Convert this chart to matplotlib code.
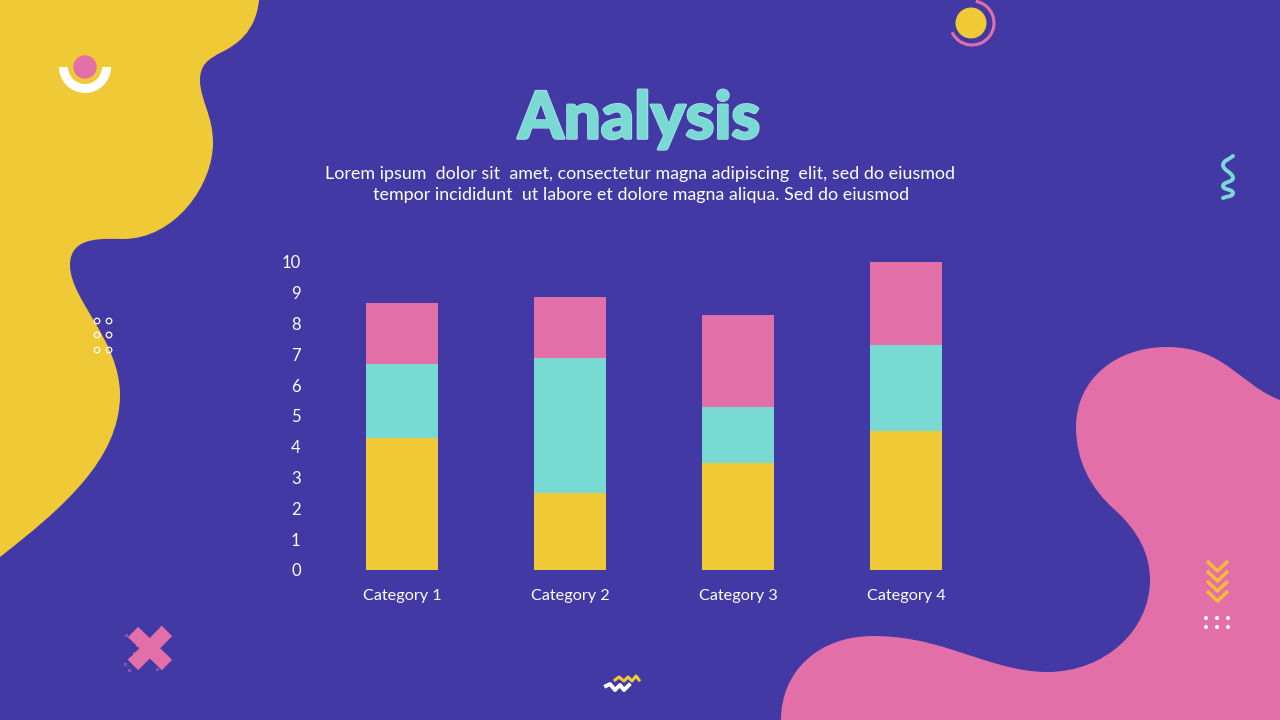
import matplotlib
matplotlib.use("Agg")
import matplotlib.pyplot as plt
import matplotlib.patheffects as pe
from matplotlib.patches import PathPatch, Circle, Wedge, Arc, Rectangle
from matplotlib.path import Path
import numpy as np

# chart values
categories = ["Category 1", "Category 2", "Category 3", "Category 4"]
yellow_vals = [4.28, 2.5, 3.47, 4.5]
teal_vals = [2.4, 4.38, 1.82, 2.8]
pink_vals = [1.98, 1.98, 3.0, 2.7]
y_ticks = list(range(0, 11))

title = "Analysis"
body_lines = ["Lorem ipsum  dolor sit  amet, consectetur magna adipiscing  elit, sed do eiusmod",
              "tempor incididunt  ut labore et dolore magna aliqua. Sed do eiusmod"]

# colours
BG = "#4239a5"
YELLOW = "#f0c937"
PINK = "#e26fa7"
TEAL = "#78dad2"
WHITE = "#ffffff"

plt.rcParams['font.family'] = ['Lato', 'DejaVu Sans']

# background blobs in pixels: start point, then bezier triples (control, control, end)
yellow_start = (259, 0)
yellow_curves = [((256, 32), (236, 45), (222, 52)),
                 ((208, 59), (200, 65), (200, 80)),
                 ((200, 100), (213, 115), (213, 143)),
                 ((213, 185), (175, 239), (123, 239)),
                 ((105, 239), (70, 235), (70, 265)),
                 ((70, 300), (120, 340), (120, 395)),
                 ((120, 460), (60, 510), (0, 557))]
yellow_corners = [(0, 0)]

pink_start = (1280, 400)
pink_curves = [((1240, 385), (1225, 347), (1167, 347)),
               ((1115, 347), (1076, 380), (1076, 427)),
               ((1076, 460), (1090, 488), (1115, 510)),
               ((1137, 530), (1150, 553), (1150, 580)),
               ((1150, 630), (1105, 672), (1047, 672)),
               ((1015, 672), (985, 660), (950, 649)),
               ((925, 641), (900, 636), (873, 636)),
               ((820, 636), (781, 670), (781, 720))]
pink_corners = [(1280, 720)]


def blob_path(start, curves, corners):
    verts = [start]
    codes = [Path.MOVETO]
    for c in curves:
        verts += list(c)
        codes += [Path.CURVE4] * 3
    for c in corners:
        verts.append(c)
        codes.append(Path.LINETO)
    verts.append(start)
    codes.append(Path.CLOSEPOLY)
    return Path(verts, codes)


# smooth open line through the points, for the squiggle
def smooth(points):
    pts = np.array(points, dtype=float)
    tang = np.zeros_like(pts)
    tang[0] = pts[1] - pts[0]
    tang[-1] = pts[-1] - pts[-2]
    tang[1:-1] = pts[2:] - pts[:-2]
    tang = tang / np.linalg.norm(tang, axis=1, keepdims=True)
    verts = [pts[0]]
    codes = [Path.MOVETO]
    for i in range(len(pts) - 1):
        d = np.linalg.norm(pts[i + 1] - pts[i]) / 3
        verts += [pts[i] + tang[i] * d, pts[i + 1] - tang[i + 1] * d, pts[i + 1]]
        codes += [Path.CURVE4] * 3
    return Path(verts, codes)


fig = plt.figure(figsize=(12.8, 7.2), dpi=100, facecolor=BG)

# full size axes in pixel coordinates for the decoration
bg = fig.add_axes([0, 0, 1, 1], zorder=0)
bg.set_xlim(0, 1280)
bg.set_ylim(720, 0)
bg.axis("off")

bg.add_patch(PathPatch(blob_path(yellow_start, yellow_curves, yellow_corners), fc=YELLOW, ec="none"))
bg.add_patch(PathPatch(blob_path(pink_start, pink_curves, pink_corners), fc=PINK, ec="none"))

# smile with pink dot, top left
bg.add_patch(Wedge((85, 67), 26, 0, 180, width=9, fc=WHITE, ec="none"))
bg.add_patch(Circle((85, 67), 11.7, fc=PINK, ec="none"))

# small hollow dots
for x in [97, 109]:
    for y in [321, 335, 350]:
        bg.add_patch(Circle((x, y), 2.8, fc="none", ec=WHITE, lw=0.9))

# yellow dot with arc, top
bg.add_patch(Circle((971, 23), 15.5, fc=YELLOW, ec="none"))
bg.add_patch(Arc((972, 23), 44, 44, theta1=-80, theta2=155, ec=PINK, lw=2.2))

# teal squiggle
bg.add_patch(PathPatch(smooth([(1233, 156), (1223, 165), (1233, 178), (1223, 186), (1233, 193), (1223, 198)]),
                       fc="none", ec=TEAL, lw=2.8, capstyle="round"))

# pink cross
bg.plot([133, 167], [632, 665], color=PINK, lw=10.5, solid_capstyle="butt")
bg.plot([167, 133], [631, 665], color=PINK, lw=10.5, solid_capstyle="butt")
for sx, sy in [(125, 634), (160, 626), (129, 657), (124, 663), (128, 669), (136, 644), (133, 652), (156, 668)]:
    bg.add_patch(Rectangle((sx, sy), 2, 2, fc="none", ec="#b06ac0", lw=0.5))
for sx, sy in [(141, 638), (152, 650), (139, 652), (164, 633), (158, 657), (148, 640)]:
    bg.add_patch(Rectangle((sx, sy), 2, 2, fc="none", ec="#f09a9a", lw=0.5))

# chevrons
for y in [561, 571, 581, 591]:
    bg.plot([1207, 1217.5, 1228], [y, y + 10, y], color="#f5b93c", lw=2.6, solid_capstyle="butt")
for x in [1206, 1217, 1228]:
    for y in [618, 627]:
        bg.add_patch(Circle((x, y), 2, fc=WHITE, ec="none"))

# zigzags at the bottom
bg.plot([615, 619, 624, 628, 632, 636, 639], [680, 677, 681, 677, 681, 676, 680], color=YELLOW, lw=2.2,
        solid_joinstyle="round")
bg.plot([606, 610, 615, 620, 624, 629], [686, 684, 690, 685, 690, 685], color=WHITE, lw=2.8,
        solid_joinstyle="round")

# title and text
bg.text(639, 120, title, color=TEAL, fontsize=47, fontweight="black", ha="center", va="center",
        path_effects=[pe.withStroke(linewidth=1.8, foreground="#b4e6ee"),
                      pe.withStroke(linewidth=0.8, foreground=TEAL)])
bg.text(640, 174, body_lines[0], color=WHITE, fontsize=12.85, ha="center", va="center")
bg.text(641, 195, body_lines[1], color=WHITE, fontsize=12.85, ha="center", va="center")

# chart axes, 0 at pixel 570 and 10 at pixel 262
ax = fig.add_axes([318 / 1280, 1 - 570 / 720, 672 / 1280, 308 / 720], zorder=1)
ax.patch.set_alpha(0)
x = np.arange(len(categories))
yellow_arr = np.array(yellow_vals)
teal_arr = np.array(teal_vals)
pink_arr = np.array(pink_vals)
ax.bar(x, yellow_arr, width=0.43, color=YELLOW)
ax.bar(x, teal_arr, width=0.43, bottom=yellow_arr, color=TEAL)
ax.bar(x, pink_arr, width=0.43, bottom=yellow_arr + teal_arr, color=PINK)
ax.set_xlim(-0.5, 3.5)
ax.set_ylim(0, 10)
ax.set_xticks(x)
ax.set_xticklabels(categories, color=WHITE, fontsize=11.7)
ax.set_yticks(y_ticks)
ax.set_yticklabels([str(v) for v in y_ticks], color=WHITE, fontsize=12)
ax.tick_params(length=0)
ax.tick_params(axis="x", pad=14)
ax.tick_params(axis="y", pad=12.5)
for s in ax.spines.values():
    s.set_visible(False)

fig.savefig("out.png", dpi=100, facecolor=BG)
